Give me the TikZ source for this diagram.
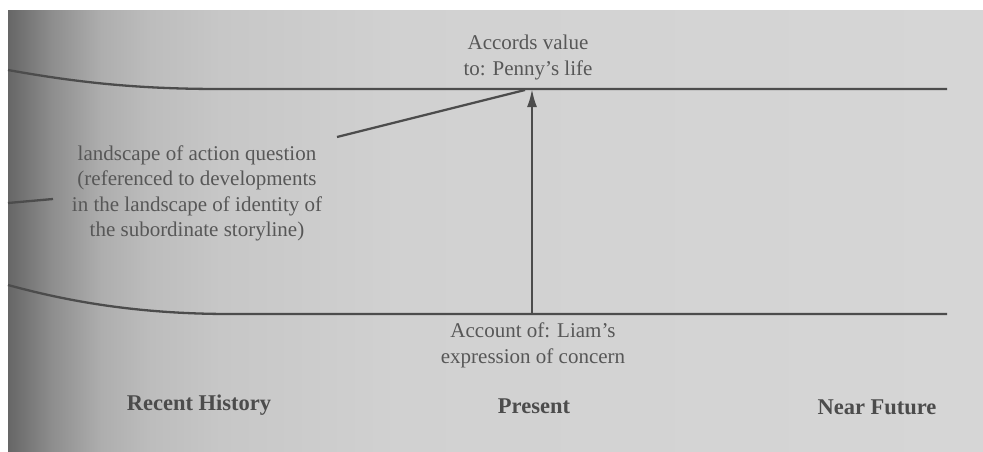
\documentclass[tikz,border=0pt]{standalone}
\usepackage{fontspec}
\setmainfont{Liberation Serif}
\usetikzlibrary{arrows.meta}

\definecolor{ink}{gray}{0.30}
\definecolor{printtext}{gray}{0.34}
\definecolor{headtext}{gray}{0.30}

\tikzset{
  band/.style={draw=ink, line width=2.3pt},
  pointer/.style={draw=ink, line width=2.3pt},
  uparrow/.style={draw=ink, line width=2.3pt, -{Latex[length=18pt,width=10pt]}},
  caption/.style={text=printtext, align=center, inner sep=0pt,
    font=\fontsize{21}{25.5}\selectfont},
  period/.style={text=headtext, inner sep=0pt,
    font=\fontsize{22.5}{27}\selectfont\bfseries},
  % one strip of the paper tone: #1 = left grey level, #2 = right grey level
  paperstrip/.style 2 args={left color=black!#1, right color=black!#2, draw=none},
}

\begin{document}
\begin{tikzpicture}[x=1pt, y=-1pt]
  \useasboundingbox (0,0) rectangle (983,452);
  \fill[white] (0,0) rectangle (983,452);

  % paper tone, darker towards the binding on the left
  \shade[paperstrip={60}{45}] (8,11)    rectangle (50.5,452);
  \shade[paperstrip={45}{32}] (50,11)   rectangle (100.5,452);
  \shade[paperstrip={32}{26}] (100,11)  rectangle (150.5,452);
  \shade[paperstrip={26}{22}] (150,11)  rectangle (220.5,452);
  \shade[paperstrip={22}{18}] (220,11)  rectangle (400.5,452);
  \shade[paperstrip={18}{16}] (400,11)  rectangle (983,452);

  % upper and lower boundaries of the storyline band
  \draw[band] (8,70) .. controls (80,83) and (140,89) .. (220,89) -- (947,89);
  \draw[band] (8,285) .. controls (70,302) and (140,314) .. (230,314) -- (947,314);

  % named points
  \coordinate (top) at (532,89);
  \coordinate (base) at (532,314);
  \coordinate (qstart) at (337,137);
  \coordinate (qend) at (525,90);
  \coordinate (edge) at (8,203);
  \coordinate (qleft) at (53,199);

  % labels
  \node[caption] (accords) at (528,57.5) {Accords value\\to: Penny's life};
  \node[caption] (question) at (197,193.5)
    {landscape of action question\\(referenced to developments\\in the landscape of identity of\\the subordinate storyline)};
  \node[caption] (account) at (533,345.5) {Account of: Liam's\\expression of concern};

  \node[period] (history) at (199,405) {Recent History};
  \node[period] (present) at (534,406) {Present};
  \node[period] (future) at (877,407) {Near Future};

  % connectors
  \draw[uparrow] (base) -- (top);
  \draw[pointer] (qstart) -- (qend);
  \draw[pointer] (edge) -- (qleft);
\end{tikzpicture}
\end{document}
